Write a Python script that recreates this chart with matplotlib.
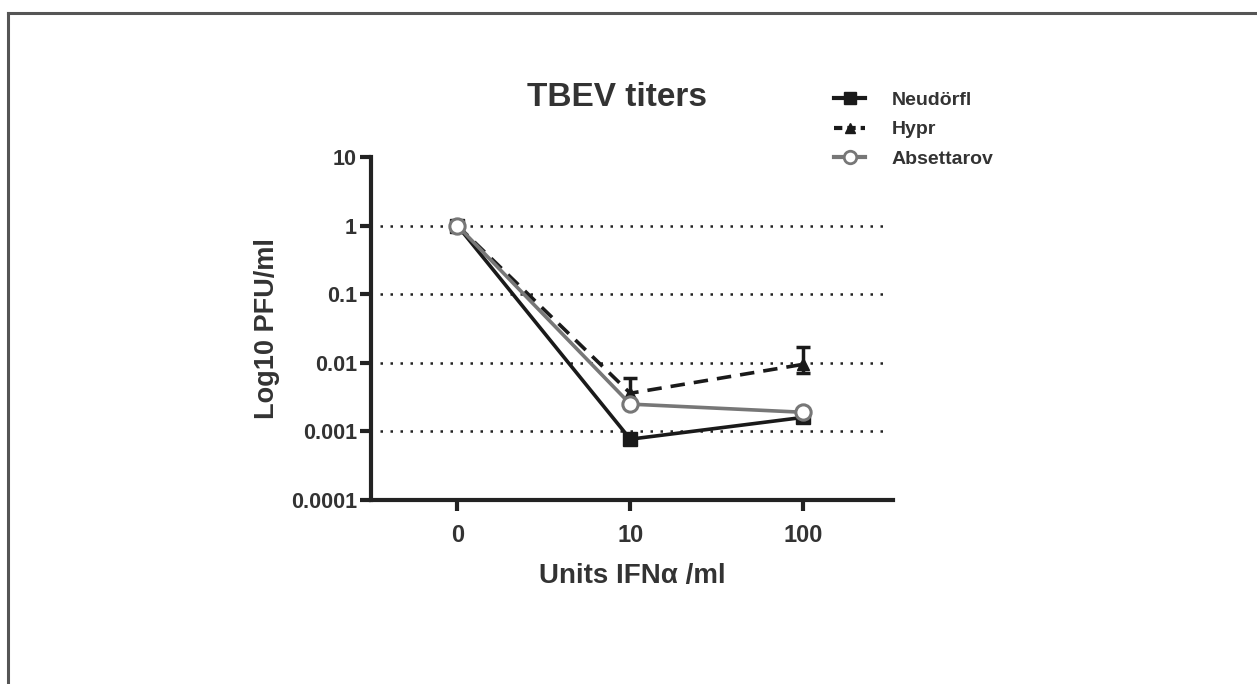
import matplotlib
matplotlib.use('Agg')
import matplotlib.pyplot as plt
from matplotlib.lines import Line2D
import numpy as np

plt.rcParams['font.family'] = ['Liberation Sans', 'DejaVu Sans']
plt.rcParams['font.weight'] = 'bold'

doses = ['0', '10', '100']
neudorfl = [1.0, 0.00077, 0.0016]
hypr = [1.0, 0.0036, 0.0095]
hypr_err_low = [0.0, 0.0008, 0.0025]
hypr_err_high = [0.0, 0.0024, 0.0075]
absettarov = [1.0, 0.0025, 0.0019]

fig = plt.figure(figsize=(12.57, 6.84), dpi=100)

# frame of the figure panel (top and left border only)
fig.add_artist(Line2D([8 / 1257, 8 / 1257], [0, 1 - 13 / 684], color='#555555', lw=2.2))
fig.add_artist(Line2D([8 / 1257, 1], [1 - 13 / 684, 1 - 13 / 684], color='#555555', lw=2.2))

ax = fig.add_axes([371 / 1257, 184 / 684, 522 / 1257, 343 / 684])
x = np.arange(len(doses))

for yv in [1, 0.1, 0.01, 0.001]:
    ax.plot([-0.45, 2.5], [yv, yv], color='#222222', lw=1.8, ls=(0, (1, 3)), zorder=1)

ax.plot(x, neudorfl, color='#1a1a1a', lw=2.6, marker='s', ms=10, zorder=3)
ax.errorbar(x, hypr, yerr=[hypr_err_low, hypr_err_high], color='#1a1a1a', lw=2.6,
            ls=(0, (4, 2.5)), marker='^', ms=9, capsize=5, capthick=2.5,
            elinewidth=2.5, zorder=4)
ax.plot(x, absettarov, color='#777777', lw=2.6, marker='o', ms=11,
        mfc='white', mec='#777777', mew=2.2, zorder=5)

ax.set_yscale('log')
ax.set_ylim(0.0001, 10)
ax.set_xlim(-0.5, 2.52)
ax.set_yticks([0.0001, 0.001, 0.01, 0.1, 1, 10])
ax.set_yticklabels(['0.0001', '0.001', '0.01', '0.1', '1', '10'])
ax.minorticks_off()
ax.set_xticks(x)
ax.set_xticklabels(doses)

for s in ['top', 'right']:
    ax.spines[s].set_visible(False)
for s in ['left', 'bottom']:
    ax.spines[s].set_linewidth(3)
    ax.spines[s].set_color('#222222')
ax.tick_params(axis='both', width=3, length=8, color='#222222', labelcolor='#333333')
ax.tick_params(axis='y', pad=2, labelsize=15.5)
ax.tick_params(axis='x', pad=9, labelsize=17)

ax.set_ylabel('Log10 PFU/ml', fontsize=19.5, fontweight='bold', color='#333333', labelpad=8)
ax.set_xlabel('Units IFNα /ml', fontsize=20, fontweight='bold', color='#333333', labelpad=12)

fig.text(617 / 1257, 1 - 97 / 684, 'TBEV titers', ha='center', va='center',
         fontsize=24, fontweight='bold', color='#333333')

handles = [
    Line2D([], [], color='#1a1a1a', lw=3, marker='s', ms=8),
    Line2D([], [], color='#1a1a1a', lw=3, ls=(0, (2, 1.2)), marker='^', ms=7),
    Line2D([], [], color='#777777', lw=3, marker='o', ms=9, mfc='white', mew=2),
]
leg = fig.legend(handles, ['Neudörfl', 'Hypr', 'Absettarov'], loc='upper left',
                 bbox_to_anchor=(817 / 1257, 1 - 74 / 684), frameon=False,
                 fontsize=14, handlelength=1.55, handletextpad=1.4, labelspacing=0.6)
for t in leg.get_texts():
    t.set_color('#333333')
    t.set_fontweight('bold')

fig.savefig('out.png', dpi=100, facecolor='white')
